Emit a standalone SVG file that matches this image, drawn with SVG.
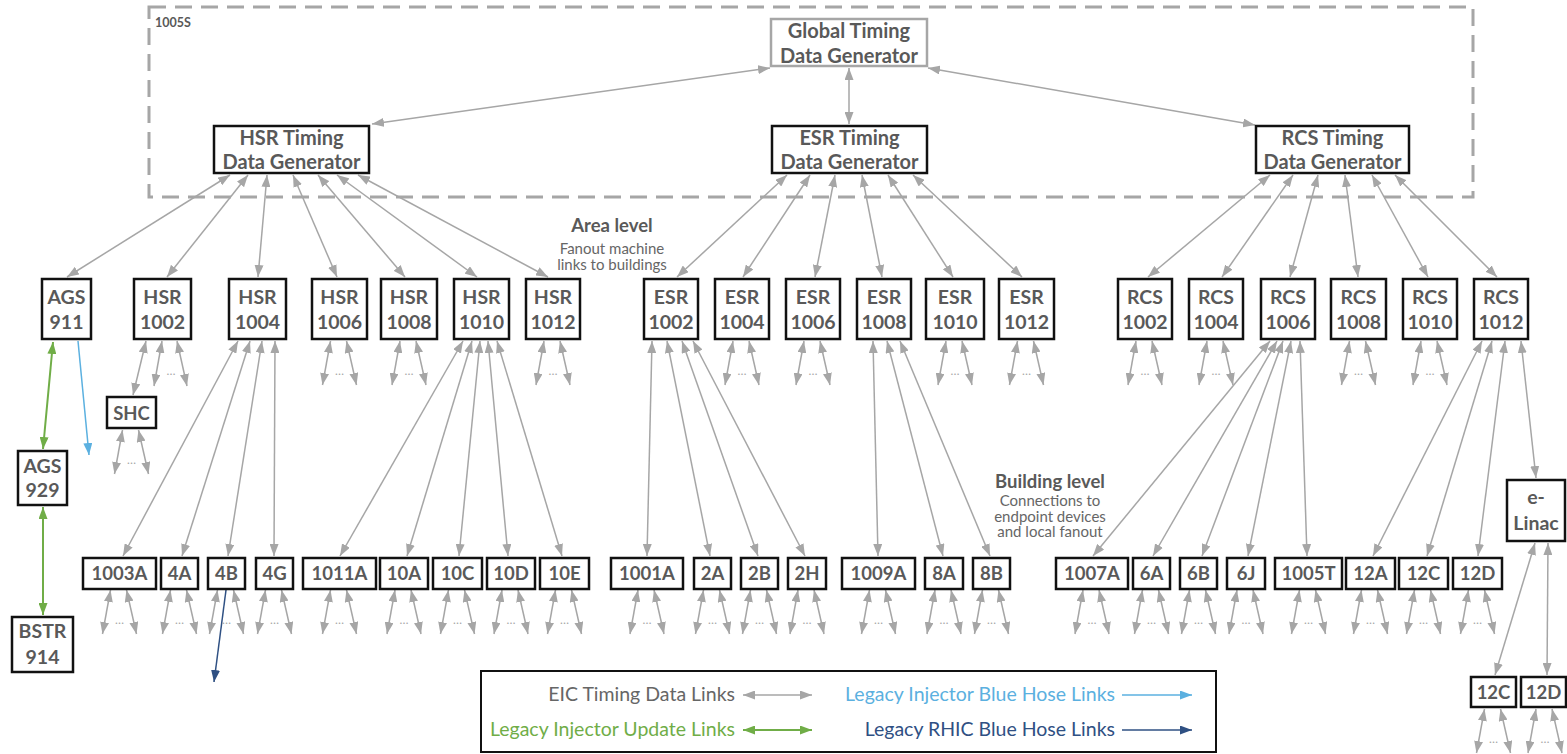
<svg xmlns="http://www.w3.org/2000/svg" xmlns:xlink="http://www.w3.org/1999/xlink" width="1567" height="754" viewBox="0 0 1567 754">
  <style>
    .box{fill:#fff;stroke:#111;stroke-width:2.5}
    .gbox{fill:#fff;stroke:#a6a6a6;stroke-width:2.5}
    .lbl{font-family:Lato,'Liberation Sans',sans-serif;font-weight:700;fill:#595959;text-anchor:middle}
    .n{font-size:19.5px}
    .b{font-size:18.5px}
    .t{font-size:20px}
    .note{font-family:Lato,'Liberation Sans',sans-serif;fill:#666;text-anchor:middle;font-size:15px}
    .noteh{font-family:Lato,'Liberation Sans',sans-serif;fill:#595959;text-anchor:middle;font-size:18.5px;font-weight:700}
    .leg{font-family:Lato,'Liberation Sans',sans-serif;font-size:19.5px;text-anchor:end}
    .dots{font-family:Lato,'Liberation Sans',sans-serif;font-size:12px;fill:#a6a6a6;text-anchor:middle}
    .c{stroke:#a6a6a6;stroke-width:1.5;fill:none;marker-start:url(#hg);marker-end:url(#hg)}
    .gr{stroke:#70ad47;stroke-width:2;fill:none;marker-start:url(#hgr);marker-end:url(#hgr)}
    .lb{stroke:#5bb0e0;stroke-width:1.5;fill:none;marker-end:url(#hlb)}
    .db{stroke:#2f5083;stroke-width:1.5;fill:none;marker-end:url(#hdb)}
  </style>
  <defs>
    <marker id="hg" viewBox="0 0 12 9" refX="12" refY="4.5" markerWidth="12" markerHeight="9" markerUnits="userSpaceOnUse" orient="auto-start-reverse"><path d="M0,0L12,4.5L0,9z" fill="#a6a6a6"/></marker>
    <marker id="hgr" viewBox="0 0 12 9" refX="12" refY="4.5" markerWidth="12" markerHeight="9" markerUnits="userSpaceOnUse" orient="auto-start-reverse"><path d="M0,0L12,4.5L0,9z" fill="#70ad47"/></marker>
    <marker id="hlb" viewBox="0 0 12 9" refX="12" refY="4.5" markerWidth="12" markerHeight="9" markerUnits="userSpaceOnUse" orient="auto"><path d="M0,0L12,4.5L0,9z" fill="#5bb0e0"/></marker>
    <marker id="hdb" viewBox="0 0 12 9" refX="12" refY="4.5" markerWidth="12" markerHeight="9" markerUnits="userSpaceOnUse" orient="auto"><path d="M0,0L12,4.5L0,9z" fill="#2f5083"/></marker>
    <!-- local fanout: two diverging links with an ellipsis between -->
    <g id="fan">
      <line class="c" x1="-9" y1="0" x2="-17" y2="44"/>
      <line class="c" x1="7" y1="0" x2="17" y2="44"/>
      <text class="dots" x="0" y="34">…</text>
    </g>
  </defs>

  <rect width="1567" height="754" fill="#fff"/>

  <!-- 1005S building boundary -->
  <g id="zone-1005S">
    <rect x="149" y="7" width="1324" height="190" fill="none" stroke="#a6a6a6" stroke-width="3" stroke-dasharray="17 9"/>
    <text class="lbl" x="155" y="27" style="font-size:12.5px;text-anchor:start">1005S</text>
  </g>

  <!-- level annotations -->
  <g id="area-level">
    <text class="noteh" x="612" y="232">Area level</text>
    <text class="note" x="612" y="254">Fanout machine</text>
    <text class="note" x="612" y="270">links to buildings</text>
  </g>
  <g id="building-level">
    <text class="noteh" x="1050" y="488">Building level</text>
    <text class="note" x="1050" y="506">Connections to</text>
    <text class="note" x="1050" y="521.5">endpoint devices</text>
    <text class="note" x="1050" y="537">and local fanout</text>
  </g>

  <!-- links -->
  <g id="connectors">
    <!-- global generator to machine generators -->
    <line class="c" x1="770" y1="68" x2="372" y2="124"/>
    <line class="c" x1="849" y1="68" x2="849" y2="124"/>
    <line class="c" x1="928" y1="68" x2="1255" y2="125"/>
    <!-- HSR generator to area nodes -->
    <line class="c" x1="230" y1="175" x2="67" y2="277"/>
    <line class="c" x1="248" y1="175" x2="167" y2="277"/>
    <line class="c" x1="267" y1="175" x2="258" y2="277"/>
    <line class="c" x1="293" y1="175" x2="337" y2="277"/>
    <line class="c" x1="318" y1="175" x2="405" y2="277"/>
    <line class="c" x1="337" y1="175" x2="477" y2="277"/>
    <line class="c" x1="358" y1="175" x2="548" y2="277"/>
    <!-- ESR generator to area nodes -->
    <line class="c" x1="787" y1="175" x2="677" y2="277"/>
    <line class="c" x1="810" y1="175" x2="743" y2="277"/>
    <line class="c" x1="835" y1="175" x2="815" y2="277"/>
    <line class="c" x1="862" y1="175" x2="882" y2="277"/>
    <line class="c" x1="888" y1="175" x2="953" y2="277"/>
    <line class="c" x1="913" y1="175" x2="1022" y2="277"/>
    <!-- RCS generator to area nodes -->
    <line class="c" x1="1270" y1="175" x2="1148" y2="277"/>
    <line class="c" x1="1293" y1="175" x2="1222" y2="277"/>
    <line class="c" x1="1318" y1="175" x2="1290" y2="277"/>
    <line class="c" x1="1345" y1="175" x2="1358" y2="277"/>
    <line class="c" x1="1372" y1="175" x2="1428" y2="277"/>
    <line class="c" x1="1395" y1="175" x2="1497" y2="277"/>

    <!-- HSR 1002 to SHC and local fanout -->
    <line class="c" x1="146" y1="341" x2="133" y2="395"/>
    <line class="c" x1="162" y1="341" x2="154" y2="386"/>
    <line class="c" x1="177" y1="341" x2="187" y2="386"/>
    <text class="dots" x="171" y="375">…</text>

    <!-- HSR 1004 to buildings -->
    <line class="c" x1="238" y1="341" x2="123" y2="556"/>
    <line class="c" x1="250" y1="341" x2="182" y2="556"/>
    <line class="c" x1="262" y1="341" x2="228" y2="556"/>
    <line class="c" x1="275" y1="341" x2="274" y2="556"/>
    <!-- HSR 1010 to buildings -->
    <line class="c" x1="463" y1="341" x2="340" y2="556"/>
    <line class="c" x1="472" y1="341" x2="407" y2="556"/>
    <line class="c" x1="480" y1="341" x2="459" y2="556"/>
    <line class="c" x1="488" y1="341" x2="508" y2="556"/>
    <line class="c" x1="497" y1="341" x2="562" y2="556"/>
    <!-- ESR 1002 to buildings -->
    <line class="c" x1="652" y1="341" x2="647" y2="556"/>
    <line class="c" x1="667" y1="341" x2="710" y2="556"/>
    <line class="c" x1="682" y1="341" x2="758" y2="556"/>
    <line class="c" x1="693" y1="341" x2="805" y2="556"/>
    <!-- ESR 1008 to buildings -->
    <line class="c" x1="873" y1="341" x2="878" y2="556"/>
    <line class="c" x1="887" y1="341" x2="943" y2="556"/>
    <line class="c" x1="900" y1="341" x2="990" y2="556"/>
    <!-- RCS 1006 to buildings -->
    <line class="c" x1="1270" y1="341" x2="1093" y2="556"/>
    <line class="c" x1="1277" y1="341" x2="1153" y2="556"/>
    <line class="c" x1="1283" y1="341" x2="1202" y2="556"/>
    <line class="c" x1="1291" y1="341" x2="1248" y2="556"/>
    <line class="c" x1="1300" y1="341" x2="1307" y2="556"/>
    <!-- RCS 1012 to buildings and e-Linac -->
    <line class="c" x1="1482" y1="341" x2="1373" y2="556"/>
    <line class="c" x1="1492" y1="341" x2="1427" y2="556"/>
    <line class="c" x1="1505" y1="341" x2="1478" y2="556"/>
    <line class="c" x1="1521" y1="341" x2="1536" y2="478"/>
    <!-- e-Linac to its buildings -->
    <line class="c" x1="1535" y1="543" x2="1495" y2="675"/>
    <line class="c" x1="1548" y1="543" x2="1547" y2="675"/>

    <!-- legacy injector links -->
    <line class="gr" x1="53" y1="342" x2="43" y2="449"/>
    <line class="gr" x1="43" y1="507" x2="43" y2="615"/>
    <line class="lb" x1="78" y1="341" x2="89" y2="455"/>
    <line class="db" x1="226" y1="590" x2="214" y2="682"/>

    <!-- area-level local fanout -->
    <use xlink:href="#fan" x="339.5" y="341"/>
    <use xlink:href="#fan" x="409" y="341"/>
    <use xlink:href="#fan" x="553" y="341"/>
    <use xlink:href="#fan" x="742" y="341"/>
    <use xlink:href="#fan" x="813" y="341"/>
    <use xlink:href="#fan" x="955" y="341"/>
    <use xlink:href="#fan" x="1026.5" y="341"/>
    <use xlink:href="#fan" x="1145" y="341"/>
    <use xlink:href="#fan" x="1216" y="341"/>
    <use xlink:href="#fan" x="1358.5" y="341"/>
    <use xlink:href="#fan" x="1430" y="341"/>
    <use xlink:href="#fan" x="131.5" y="430"/>

    <!-- building-level local fanout -->
    <use xlink:href="#fan" x="119.5" y="590"/>
    <use xlink:href="#fan" x="179.5" y="590"/>
    <use xlink:href="#fan" x="226.5" y="590"/>
    <use xlink:href="#fan" x="274.5" y="590"/>
    <use xlink:href="#fan" x="339.5" y="590"/>
    <use xlink:href="#fan" x="404" y="590"/>
    <use xlink:href="#fan" x="457.5" y="590"/>
    <use xlink:href="#fan" x="511" y="590"/>
    <use xlink:href="#fan" x="564.5" y="590"/>
    <use xlink:href="#fan" x="647" y="590"/>
    <use xlink:href="#fan" x="712.5" y="590"/>
    <use xlink:href="#fan" x="759.5" y="590"/>
    <use xlink:href="#fan" x="807" y="590"/>
    <use xlink:href="#fan" x="878.5" y="590"/>
    <use xlink:href="#fan" x="944" y="590"/>
    <use xlink:href="#fan" x="991.5" y="590"/>
    <use xlink:href="#fan" x="1092" y="590"/>
    <use xlink:href="#fan" x="1151.5" y="590"/>
    <use xlink:href="#fan" x="1198.5" y="590"/>
    <use xlink:href="#fan" x="1246" y="590"/>
    <use xlink:href="#fan" x="1308.5" y="590"/>
    <use xlink:href="#fan" x="1370.5" y="590"/>
    <use xlink:href="#fan" x="1423.5" y="590"/>
    <use xlink:href="#fan" x="1477.5" y="590"/>
    <use xlink:href="#fan" x="1493.5" y="709"/>
    <use xlink:href="#fan" x="1545" y="709"/>
  </g>

  <!-- timing data generators -->
  <g id="global-tdg">
    <rect class="gbox" x="771" y="19" width="156" height="47"/>
    <text class="lbl t" x="849" y="38">Global Timing</text>
    <text class="lbl t" x="849" y="62.5">Data Generator</text>
  </g>
  <g id="hsr-tdg">
    <rect class="box" x="214" y="126" width="155" height="47"/>
    <text class="lbl t" x="291.5" y="144.5">HSR Timing</text>
    <text class="lbl t" x="291.5" y="169">Data Generator</text>
  </g>
  <g id="esr-tdg">
    <rect class="box" x="772" y="126" width="155" height="47"/>
    <text class="lbl t" x="849.5" y="144.5">ESR Timing</text>
    <text class="lbl t" x="849.5" y="169">Data Generator</text>
  </g>
  <g id="rcs-tdg">
    <rect class="box" x="1256" y="126" width="153" height="47"/>
    <text class="lbl t" x="1332.5" y="144.5">RCS Timing</text>
    <text class="lbl t" x="1332.5" y="169">Data Generator</text>
  </g>

  <!-- area level nodes -->
  <g id="ags-911"><rect class="box" x="42" y="279" width="49" height="60"/><text class="lbl n" x="66.5" y="303.5">AGS</text><text class="lbl n" x="66.5" y="328.5">911</text></g>
  <g id="hsr-1002"><rect class="box" x="134" y="279" width="57" height="60"/><text class="lbl n" x="162.5" y="303.5">HSR</text><text class="lbl n" x="162.5" y="328.5">1002</text></g>
  <g id="hsr-1004"><rect class="box" x="229" y="279" width="57" height="60"/><text class="lbl n" x="257.5" y="303.5">HSR</text><text class="lbl n" x="257.5" y="328.5">1004</text></g>
  <g id="hsr-1006"><rect class="box" x="312" y="279" width="55" height="60"/><text class="lbl n" x="339.5" y="303.5">HSR</text><text class="lbl n" x="339.5" y="328.5">1006</text></g>
  <g id="hsr-1008"><rect class="box" x="381" y="279" width="56" height="60"/><text class="lbl n" x="409" y="303.5">HSR</text><text class="lbl n" x="409" y="328.5">1008</text></g>
  <g id="hsr-1010"><rect class="box" x="454" y="279" width="55" height="60"/><text class="lbl n" x="481.5" y="303.5">HSR</text><text class="lbl n" x="481.5" y="328.5">1010</text></g>
  <g id="hsr-1012"><rect class="box" x="526" y="279" width="54" height="60"/><text class="lbl n" x="553" y="303.5">HSR</text><text class="lbl n" x="553" y="328.5">1012</text></g>
  <g id="esr-1002"><rect class="box" x="644" y="279" width="54" height="60"/><text class="lbl n" x="671" y="303.5">ESR</text><text class="lbl n" x="671" y="328.5">1002</text></g>
  <g id="esr-1004"><rect class="box" x="715" y="279" width="54" height="60"/><text class="lbl n" x="742" y="303.5">ESR</text><text class="lbl n" x="742" y="328.5">1004</text></g>
  <g id="esr-1006"><rect class="box" x="786" y="279" width="54" height="60"/><text class="lbl n" x="813" y="303.5">ESR</text><text class="lbl n" x="813" y="328.5">1006</text></g>
  <g id="esr-1008"><rect class="box" x="857" y="279" width="54" height="60"/><text class="lbl n" x="884" y="303.5">ESR</text><text class="lbl n" x="884" y="328.5">1008</text></g>
  <g id="esr-1010"><rect class="box" x="926" y="279" width="58" height="60"/><text class="lbl n" x="955" y="303.5">ESR</text><text class="lbl n" x="955" y="328.5">1010</text></g>
  <g id="esr-1012"><rect class="box" x="999" y="279" width="55" height="60"/><text class="lbl n" x="1026.5" y="303.5">ESR</text><text class="lbl n" x="1026.5" y="328.5">1012</text></g>
  <g id="rcs-1002"><rect class="box" x="1118" y="279" width="54" height="60"/><text class="lbl n" x="1145" y="303.5">RCS</text><text class="lbl n" x="1145" y="328.5">1002</text></g>
  <g id="rcs-1004"><rect class="box" x="1189" y="279" width="54" height="60"/><text class="lbl n" x="1216" y="303.5">RCS</text><text class="lbl n" x="1216" y="328.5">1004</text></g>
  <g id="rcs-1006"><rect class="box" x="1261" y="279" width="54" height="60"/><text class="lbl n" x="1288" y="303.5">RCS</text><text class="lbl n" x="1288" y="328.5">1006</text></g>
  <g id="rcs-1008"><rect class="box" x="1331" y="279" width="55" height="60"/><text class="lbl n" x="1358.5" y="303.5">RCS</text><text class="lbl n" x="1358.5" y="328.5">1008</text></g>
  <g id="rcs-1010"><rect class="box" x="1403" y="279" width="54" height="60"/><text class="lbl n" x="1430" y="303.5">RCS</text><text class="lbl n" x="1430" y="328.5">1010</text></g>
  <g id="rcs-1012"><rect class="box" x="1474" y="279" width="54" height="60"/><text class="lbl n" x="1501" y="303.5">RCS</text><text class="lbl n" x="1501" y="328.5">1012</text></g>

  <!-- injector chain and sub-nodes -->
  <g id="shc"><rect class="box" x="107" y="397" width="49" height="31"/><text class="lbl b" x="131.5" y="420">SHC</text></g>
  <g id="ags-929"><rect class="box" x="18" y="451" width="49" height="54"/><text class="lbl n" x="42.5" y="472.5">AGS</text><text class="lbl n" x="42.5" y="497">929</text></g>
  <g id="bstr-914"><rect class="box" x="12" y="617" width="61" height="55"/><text class="lbl n" x="42.5" y="638">BSTR</text><text class="lbl n" x="42.5" y="663.5">914</text></g>
  <g id="e-linac"><rect class="box" x="1507" y="480" width="58" height="61"/><text class="lbl n" x="1536" y="504">e-</text><text class="lbl n" x="1536" y="529.5">Linac</text></g>

  <!-- building level nodes -->
  <g id="b-1003A"><rect class="box" x="83" y="558" width="73" height="31"/><text class="lbl b" x="119.5" y="579.5">1003A</text></g>
  <g id="b-4A"><rect class="box" x="161" y="558" width="37" height="31"/><text class="lbl b" x="179.5" y="579.5">4A</text></g>
  <g id="b-4B"><rect class="box" x="208" y="558" width="37" height="31"/><text class="lbl b" x="226.5" y="579.5">4B</text></g>
  <g id="b-4G"><rect class="box" x="256" y="558" width="37" height="31"/><text class="lbl b" x="274.5" y="579.5">4G</text></g>
  <g id="b-1011A"><rect class="box" x="303" y="558" width="73" height="31"/><text class="lbl b" x="339.5" y="579.5">1011A</text></g>
  <g id="b-10A"><rect class="box" x="380" y="558" width="48" height="31"/><text class="lbl b" x="404" y="579.5">10A</text></g>
  <g id="b-10C"><rect class="box" x="433" y="558" width="49" height="31"/><text class="lbl b" x="457.5" y="579.5">10C</text></g>
  <g id="b-10D"><rect class="box" x="487" y="558" width="48" height="31"/><text class="lbl b" x="511" y="579.5">10D</text></g>
  <g id="b-10E"><rect class="box" x="540" y="558" width="49" height="31"/><text class="lbl b" x="564.5" y="579.5">10E</text></g>
  <g id="b-1001A"><rect class="box" x="611" y="558" width="72" height="31"/><text class="lbl b" x="647" y="579.5">1001A</text></g>
  <g id="b-2A"><rect class="box" x="694" y="558" width="37" height="31"/><text class="lbl b" x="712.5" y="579.5">2A</text></g>
  <g id="b-2B"><rect class="box" x="741" y="558" width="37" height="31"/><text class="lbl b" x="759.5" y="579.5">2B</text></g>
  <g id="b-2H"><rect class="box" x="788" y="558" width="38" height="31"/><text class="lbl b" x="807" y="579.5">2H</text></g>
  <g id="b-1009A"><rect class="box" x="842" y="558" width="73" height="31"/><text class="lbl b" x="878.5" y="579.5">1009A</text></g>
  <g id="b-8A"><rect class="box" x="925" y="558" width="38" height="31"/><text class="lbl b" x="944" y="579.5">8A</text></g>
  <g id="b-8B"><rect class="box" x="973" y="558" width="37" height="31"/><text class="lbl b" x="991.5" y="579.5">8B</text></g>
  <g id="b-1007A"><rect class="box" x="1056" y="558" width="72" height="31"/><text class="lbl b" x="1092" y="579.5">1007A</text></g>
  <g id="b-6A"><rect class="box" x="1133" y="558" width="37" height="31"/><text class="lbl b" x="1151.5" y="579.5">6A</text></g>
  <g id="b-6B"><rect class="box" x="1180" y="558" width="37" height="31"/><text class="lbl b" x="1198.5" y="579.5">6B</text></g>
  <g id="b-6J"><rect class="box" x="1227" y="558" width="38" height="31"/><text class="lbl b" x="1246" y="579.5">6J</text></g>
  <g id="b-1005T"><rect class="box" x="1275" y="558" width="67" height="31"/><text class="lbl b" x="1308.5" y="579.5">1005T</text></g>
  <g id="b-12A"><rect class="box" x="1346" y="558" width="49" height="31"/><text class="lbl b" x="1370.5" y="579.5">12A</text></g>
  <g id="b-12C"><rect class="box" x="1399" y="558" width="49" height="31"/><text class="lbl b" x="1423.5" y="579.5">12C</text></g>
  <g id="b-12D"><rect class="box" x="1453" y="558" width="49" height="31"/><text class="lbl b" x="1477.5" y="579.5">12D</text></g>
  <g id="b-linac-12C"><rect class="box" x="1471" y="677" width="45" height="30"/><text class="lbl b" x="1493.5" y="699">12C</text></g>
  <g id="b-linac-12D"><rect class="box" x="1521" y="677" width="45" height="30"/><text class="lbl b" x="1543.5" y="699">12D</text></g>

  <!-- legend -->
  <g id="legend">
    <rect x="481" y="671" width="735" height="81" fill="#fff" stroke="#111" stroke-width="2"/>
    <text class="leg" x="735" y="701" fill="#666">EIC Timing Data Links</text>
    <line class="c" x1="743" y1="695" x2="812" y2="695"/>
    <text class="leg" x="735" y="736" fill="#70ad47">Legacy Injector Update Links</text>
    <line class="gr" x1="743" y1="730" x2="812" y2="730"/>
    <text class="leg" x="1115" y="701" fill="#5bb0e0">Legacy Injector Blue Hose Links</text>
    <line class="lb" x1="1122" y1="695" x2="1192" y2="695"/>
    <text class="leg" x="1115" y="736" fill="#2f5083">Legacy RHIC Blue Hose Links</text>
    <line class="db" x1="1122" y1="730" x2="1192" y2="730"/>
  </g>
</svg>
